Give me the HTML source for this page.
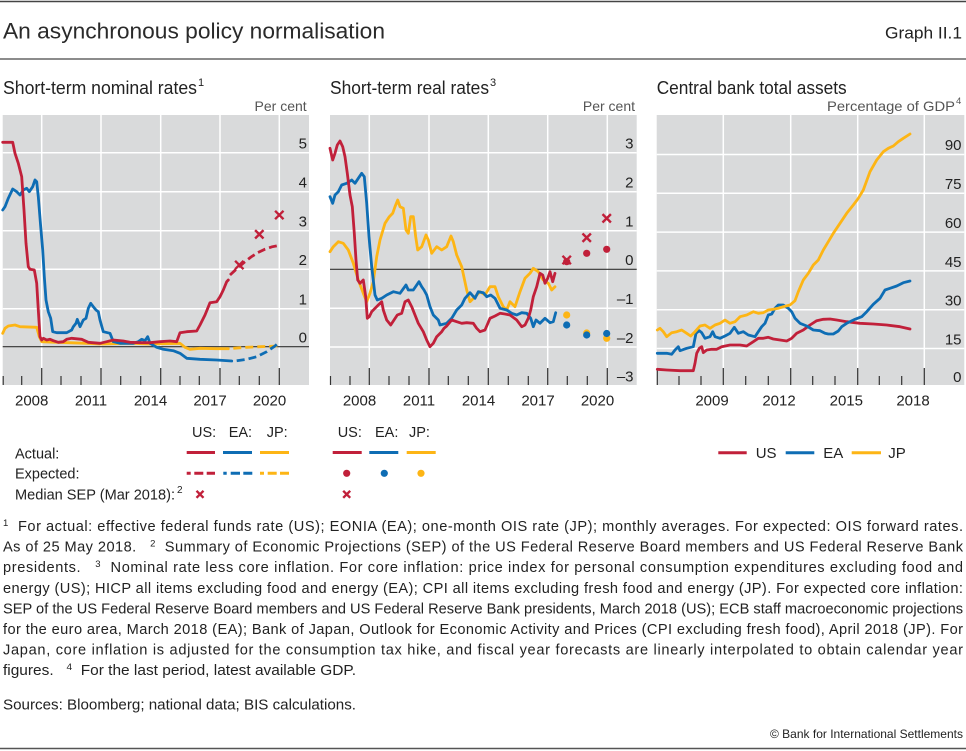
<!DOCTYPE html>
<html><head><meta charset="utf-8"><style>
body{margin:0;background:#fff}
svg{display:block}
text{font-family:"Liberation Sans",sans-serif;fill:#222}
.g{stroke:#fff;stroke-width:1.5}
.tk{stroke:#333;stroke-width:1.2}
.r{stroke:#C1203A}.b{stroke:#0E6DB4}.o{stroke:#FDB515}
.ln{fill:none;stroke-width:2.8;stroke-linejoin:round;stroke-linecap:round}
.ds{fill:none;stroke-width:2.8;stroke-dasharray:8 4}
.x{stroke:#C1203A;stroke-width:2.4}
.ax{font-size:15px;text-anchor:middle}
.yl{font-size:15px;text-anchor:end}
.lg{font-size:14.5px}
.fn{font-size:14.6px}
</style></head><body>
<svg width="966" height="751" viewBox="0 0 966 751" xmlns="http://www.w3.org/2000/svg">
<!-- rules -->
<line x1="0" y1="1.5" x2="966" y2="1.5" stroke="#444" stroke-width="1.5"/>
<line x1="0" y1="59" x2="966" y2="59" stroke="#666" stroke-width="1.5"/>
<line x1="0" y1="748.5" x2="966" y2="748.5" stroke="#555" stroke-width="1.5"/>

<text x="3" y="38.5" font-size="22" textLength="382" lengthAdjust="spacingAndGlyphs" style="fill:#2a2a2a">An asynchronous policy normalisation</text>
<text x="962" y="38.5" font-size="17" text-anchor="end" textLength="77" lengthAdjust="spacingAndGlyphs">Graph II.1</text>

<!-- panel titles -->
<text x="3" y="94" font-size="18" textLength="194" lengthAdjust="spacingAndGlyphs">Short-term nominal rates</text>
<text x="198" y="86" font-size="11">1</text>
<text x="330" y="94" font-size="18" textLength="159" lengthAdjust="spacingAndGlyphs">Short-term real rates</text>
<text x="490" y="86" font-size="11">3</text>
<text x="656.7" y="94" font-size="18" textLength="190" lengthAdjust="spacingAndGlyphs">Central bank total assets</text>

<text x="306.7" y="111" font-size="14" text-anchor="end" style="fill:#555">Per cent</text>
<text x="635" y="111" font-size="14" text-anchor="end" style="fill:#555">Per cent</text>
<text x="955" y="111" font-size="14" text-anchor="end" style="fill:#555" textLength="128" lengthAdjust="spacingAndGlyphs">Percentage of GDP</text>
<text x="956" y="104" font-size="9.5" style="fill:#555">4</text>

<!-- ============ PANEL 1 ============ -->
<rect x="2.7" y="115" width="306.3" height="270" fill="#D9DADB"/>
<g class="g">
<line x1="2.7" y1="152.7" x2="309" y2="152.7"/>
<line x1="2.7" y1="191.7" x2="309" y2="191.7"/>
<line x1="2.7" y1="230.7" x2="309" y2="230.7"/>
<line x1="2.7" y1="269.3" x2="309" y2="269.3"/>
<line x1="2.7" y1="308.7" x2="309" y2="308.7"/>
<line x1="41.7" y1="115" x2="41.7" y2="368"/>
<line x1="101" y1="115" x2="101" y2="368"/>
<line x1="160.7" y1="115" x2="160.7" y2="368"/>
<line x1="220" y1="115" x2="220" y2="368"/>
<line x1="279.3" y1="115" x2="279.3" y2="368"/>
</g>
<line x1="2.7" y1="346.7" x2="309" y2="346.7" stroke="#333" stroke-width="1.2"/>
<g class="tk">
<line x1="41.7" y1="368" x2="41.7" y2="385"/><line x1="101" y1="368" x2="101" y2="385"/><line x1="160.7" y1="368" x2="160.7" y2="385"/><line x1="220" y1="368" x2="220" y2="385"/><line x1="279.3" y1="368" x2="279.3" y2="385"/>
<line x1="3.2" y1="376" x2="3.2" y2="385"/><line x1="21.7" y1="376" x2="21.7" y2="385"/><line x1="61" y1="376" x2="61" y2="385"/><line x1="81" y1="376" x2="81" y2="385"/><line x1="120.7" y1="376" x2="120.7" y2="385"/><line x1="140.7" y1="376" x2="140.7" y2="385"/><line x1="180" y1="376" x2="180" y2="385"/><line x1="199.3" y1="376" x2="199.3" y2="385"/><line x1="239.3" y1="376" x2="239.3" y2="385"/><line x1="259.3" y1="376" x2="259.3" y2="385"/>
</g>
<text class="yl" x="307" y="148.5">5</text><text class="yl" x="307" y="187.5">4</text><text class="yl" x="307" y="226.5">3</text><text class="yl" x="307" y="265">2</text><text class="yl" x="307" y="304.5">1</text><text class="yl" x="307" y="342.5">0</text>
<text class="ax" x="31.7" y="405.5">2008</text><text class="ax" x="91" y="405.5">2011</text><text class="ax" x="150.5" y="405.5">2014</text><text class="ax" x="210" y="405.5">2017</text><text class="ax" x="269.5" y="405.5">2020</text>

<polyline class="ln o" points="2.7,333.3 5,328.3 8.3,326 15,325 20,326.7 36.7,327.3 39.3,336.7 41.7,341.7 56.7,342.3 86.7,343.3 100,344 133.3,343.3 150,344 180,343.3 185,347.3 190,349.3 200,348.3 216.7,348.7 228.3,348.7"/>
<polyline class="ds o" points="233.3,348.3 246.7,347.3 260,346.7 279.3,346"/>
<polyline class="ln b" points="2.7,210 5,206.7 8.3,198.3 12.7,189 16.7,191.7 20,195 23.3,190 26.7,188.3 29.3,191.7 32.7,186.7 35,180 36.7,181.7 38.3,196.7 40.7,226.7 42.7,250 44.3,276.7 46,300 48.3,311.7 50.7,318.3 52.7,331.7 56.7,332.7 66.7,332.7 71.7,330 73.3,326.7 76,323.3 77.3,319.3 80,326.7 83.3,320 86,318.3 88.3,308.3 90.7,303.3 93.3,306.7 96,310 98.3,311.7 100,320 103.3,331.7 110,333.3 113.3,341.7 120,343.3 133.3,343.3 138.3,341.7 141.7,339.3 145,340.7 147.7,336.7 150,343.3 156.7,347.3 163.3,349.3 173.3,350.7 180,353.3 186.7,358.3 200,359.3 216.7,360 231.7,361"/>
<polyline class="ds b" points="236.7,360.7 246.7,359.3 256.7,356.7 266.7,351.7 275,346 279.3,342.3"/>
<polyline class="ln r" points="2.7,142.3 12.7,142.3 15,153.3 18.3,163.3 21.7,176.7 24,210 26,243.3 28.3,266.7 30,269.3 34.3,270 36.7,283.3 38.3,310 40,336.7 41.7,340 43.3,338.3 46.7,340 50,339.3 53.3,340.7 58.3,342.3 63.3,341.7 66.7,339.3 71.7,338.3 81.7,339.3 88.3,342.3 100,343.3 106.7,341.7 113.3,340 123.3,341 130,342.3 140,342.7 150,342.7 160,341.7 170,341 176.7,341.7 180,332.7 186.7,331.7 196.7,331 200,325 205,315 210,302.7 216.7,301.7 220,296.7 223.3,290 226.7,281.7 228.3,280"/>
<polyline class="ds r" points="230,275 237,268.5 244,262.5 251,257 258,252.5 265,249.2 272,246.8 279.3,245.3"/>
<g class="x">
<path d="M235.1,260.8 L243.5,269.2 M243.5,260.8 L235.1,269.2"/>
<path d="M255.1,230.1 L263.5,238.5 M263.5,230.1 L255.1,238.5"/>
<path d="M275.1,210.8 L283.5,219.2 M283.5,210.8 L275.1,219.2"/>
</g>

<!-- ============ PANEL 2 ============ -->
<rect x="330" y="115" width="306.7" height="270" fill="#D9DADB"/>
<g class="g">
<line x1="330" y1="152.7" x2="636.7" y2="152.7"/>
<line x1="330" y1="191.7" x2="636.7" y2="191.7"/>
<line x1="330" y1="230.7" x2="636.7" y2="230.7"/>
<line x1="330" y1="308.3" x2="636.7" y2="308.3"/>
<line x1="330" y1="347" x2="636.7" y2="347"/>
<line x1="369.3" y1="115" x2="369.3" y2="368"/>
<line x1="429" y1="115" x2="429" y2="368"/>
<line x1="488.3" y1="115" x2="488.3" y2="368"/>
<line x1="547.7" y1="115" x2="547.7" y2="368"/>
<line x1="607.3" y1="115" x2="607.3" y2="368"/>
</g>
<line x1="330" y1="269.3" x2="636.7" y2="269.3" stroke="#333" stroke-width="1.2"/>
<g class="tk">
<line x1="369.3" y1="368" x2="369.3" y2="385"/><line x1="429" y1="368" x2="429" y2="385"/><line x1="488.3" y1="368" x2="488.3" y2="385"/><line x1="547.7" y1="368" x2="547.7" y2="385"/><line x1="607.3" y1="368" x2="607.3" y2="385"/>
<line x1="330.5" y1="376" x2="330.5" y2="385"/><line x1="350" y1="376" x2="350" y2="385"/><line x1="389" y1="376" x2="389" y2="385"/><line x1="409" y1="376" x2="409" y2="385"/><line x1="448.3" y1="376" x2="448.3" y2="385"/><line x1="468.3" y1="376" x2="468.3" y2="385"/><line x1="508.3" y1="376" x2="508.3" y2="385"/><line x1="528.3" y1="376" x2="528.3" y2="385"/><line x1="567.3" y1="376" x2="567.3" y2="385"/><line x1="587.3" y1="376" x2="587.3" y2="385"/>
</g>
<text class="yl" x="633.5" y="148.5">3</text><text class="yl" x="633.5" y="187.5">2</text><text class="yl" x="633.5" y="226.5">1</text><text class="yl" x="633.5" y="265">0</text><text class="yl" x="633.5" y="304">–1</text><text class="yl" x="633.5" y="343">–2</text><text class="yl" x="633.5" y="381.5">–3</text>
<text class="ax" x="359.5" y="405.5">2008</text><text class="ax" x="419" y="405.5">2011</text><text class="ax" x="478.5" y="405.5">2014</text><text class="ax" x="538" y="405.5">2017</text><text class="ax" x="597.5" y="405.5">2020</text>

<polyline class="ln o" points="330,251.7 333.3,246.7 338.3,241.7 343.3,243.3 348.3,250 353.3,263.3 358.3,280 363.3,293.3 366.7,301.7 370,293.3 373.3,281.7 376.7,256.7 380,240 385,223.3 389.3,216.7 392.7,213.3 395,206.7 397.7,200 400,206.7 403.3,208.3 406,230 408.3,233.3 410.7,216.7 413.3,216.7 415.7,236.7 417.7,250 421.7,246.7 426,235 428.3,240 431.7,253.3 436.7,246.7 441.7,250 446.7,246.7 451,236 453.3,241.7 456.7,255 461.7,266.7 466.7,290 470,301.7 475,296.7 480,291.7 485,295 490,286.7 495,286.7 498.3,296.7 503.3,306.7 506.7,310 510,301.7 515,306.7 520,291.7 525,278.3 530,273.3 533.3,268.3 538.3,271.7 543.3,280 548.3,283.3 551.7,290 555,286.7"/>
<polyline class="ln b" points="330,196.7 332.7,203.3 335,195 338.3,191.7 341.7,185 346.7,183.3 351.7,180 355,183.3 358.3,178.3 361.7,173.3 364.3,176.7 366.7,203.3 369,236.7 371.7,266.7 375,295 377.3,300 381.7,298.3 386.7,295 393.3,291.7 400,293.3 406,285 408.3,290 413.3,290 419,281.7 421.7,286.7 424,290 426.7,295 430,306.7 433.3,315 438.3,320 440,325 446.7,323.3 451.7,318.3 456.7,310 461.7,305 465,298.3 470,292.7 475,298.3 478.3,291.7 483.3,292.7 486.7,296.7 490.7,295 495,298.3 500,308.3 506.7,310 511.7,313.3 516.7,315 521.7,312.7 526.7,313.3 530.7,318.3 533.3,326.7 536,320 540,323.3 545,318.3 550,322.7 553.3,321.7 555.7,312.7"/>
<polyline class="ln r" points="330,148.3 332.7,160 335,153.3 337.3,145 340,141 342.7,146.7 345,156.7 347.3,173.3 350,195 352.3,206.7 354.3,233.3 356,260 357.7,280 360,283.3 363.3,280 365.7,296.7 367.3,318.3 369.3,316.7 371.7,311.7 375,308.3 378.3,305 381.7,301.7 383.3,310 386.7,320 390.7,325 394,320 397.3,315 401.7,313.3 405,301.7 408.3,300 411.7,306.7 415,315 418.3,323.3 423.3,331.7 426.7,340 430,346.7 433.3,343.3 436.7,336.7 441.7,331.7 444,328.3 446.7,326 451.7,320 456.7,321.7 461.7,323.3 466.7,322.7 473.3,323.3 476.7,328.3 480,331.7 485,330 490,318.3 495,316 500,313.3 505,314 510,315 516.7,320 521.7,326.7 525,325 528.3,318.3 530.7,310 533.3,296.7 536.7,286.7 540,273.3 542.7,275 545,283.3 547.7,278.3 550,271.7 552.7,281.7 555,273.3"/>
<circle cx="566.7" cy="315" r="3.6" fill="#FDB515"/><circle cx="586.7" cy="333" r="3.6" fill="#FDB515"/><circle cx="606.7" cy="338.3" r="3.6" fill="#FDB515"/>
<circle cx="566.7" cy="325" r="3.6" fill="#0E6DB4"/><circle cx="586.7" cy="335" r="3.6" fill="#0E6DB4"/><circle cx="606.7" cy="333.5" r="3.6" fill="#0E6DB4"/>
<circle cx="566.7" cy="261.7" r="3.6" fill="#C1203A"/><circle cx="586.7" cy="253.3" r="3.6" fill="#C1203A"/><circle cx="606.7" cy="249.3" r="3.6" fill="#C1203A"/>
<g class="x">
<path d="M562.5,255.8 L570.9,264.2 M570.9,255.8 L562.5,264.2"/>
<path d="M582.5,233.5 L590.9,241.9 M590.9,233.5 L582.5,241.9"/>
<path d="M602.5,214.1 L610.9,222.5 M610.9,214.1 L602.5,222.5"/>
</g>

<!-- ============ PANEL 3 ============ -->
<rect x="656.7" y="115" width="307.6" height="270" fill="#D9DADB"/>
<g class="g">
<line x1="656.7" y1="154.5" x2="964.3" y2="154.5"/>
<line x1="656.7" y1="193.3" x2="964.3" y2="193.3"/>
<line x1="656.7" y1="232.1" x2="964.3" y2="232.1"/>
<line x1="656.7" y1="270.9" x2="964.3" y2="270.9"/>
<line x1="656.7" y1="309.7" x2="964.3" y2="309.7"/>
<line x1="656.7" y1="348.5" x2="964.3" y2="348.5"/>
<line x1="723.3" y1="115" x2="723.3" y2="368"/>
<line x1="790.7" y1="115" x2="790.7" y2="368"/>
<line x1="857.7" y1="115" x2="857.7" y2="368"/>
<line x1="924.3" y1="115" x2="924.3" y2="368"/>
</g>
<g class="tk">
<line x1="657.3" y1="368" x2="657.3" y2="385"/><line x1="723.3" y1="368" x2="723.3" y2="385"/><line x1="790.7" y1="368" x2="790.7" y2="385"/><line x1="857.7" y1="368" x2="857.7" y2="385"/><line x1="924.3" y1="368" x2="924.3" y2="385"/>
<line x1="679" y1="376" x2="679" y2="385"/><line x1="701" y1="376" x2="701" y2="385"/><line x1="745.7" y1="376" x2="745.7" y2="385"/><line x1="768.3" y1="376" x2="768.3" y2="385"/><line x1="812.7" y1="376" x2="812.7" y2="385"/><line x1="835" y1="376" x2="835" y2="385"/><line x1="879.3" y1="376" x2="879.3" y2="385"/><line x1="901.7" y1="376" x2="901.7" y2="385"/>
</g>
<text class="yl" x="961.5" y="150">90</text><text class="yl" x="961.5" y="189">75</text><text class="yl" x="961.5" y="228">60</text><text class="yl" x="961.5" y="267">45</text><text class="yl" x="961.5" y="305.5">30</text><text class="yl" x="961.5" y="344.5">15</text><text class="yl" x="961.5" y="382">0</text>
<text class="ax" x="712" y="405.5">2009</text><text class="ax" x="779" y="405.5">2012</text><text class="ax" x="846.3" y="405.5">2015</text><text class="ax" x="913" y="405.5">2018</text>

<polyline class="ln r" points="657.3,369.3 666.7,370 680,370.7 693.3,370.7 695,363.3 696.7,353.3 699.3,348.3 701.7,346.7 703.3,352.7 706.7,350 711.7,349.3 716.7,349.3 721.7,346.7 730,345 740,345 746.7,346 753.3,341.7 758.3,338.3 763.3,338.3 768.3,337.3 773.3,339 780,340 786.7,341 791.7,338.3 796.7,333.3 803.3,330 810,325 816.7,320.7 823.3,319.3 830,319 836.7,320 846.7,321.7 860,323.3 873.3,324 886.7,325 900,326.7 910,329"/>
<polyline class="ln b" points="657.3,353.3 666.7,353.3 671.7,354.3 675,350 678.3,346.7 680,350.7 686.7,348.3 693.3,346.7 696,333.3 699.3,330.7 701.7,332.7 705,338.3 710,336.7 712.7,331.7 715,336.7 720,338.3 725,336 730,333.3 734.3,327.3 738.3,333.3 743.3,331.7 748.3,335 755,336.7 758.3,331.7 761.7,326.7 765,323.3 768.3,315 771.7,314 775,308.3 778.3,305 783.3,305 788.3,308.3 791.7,311.7 795,318.3 800,323.3 806.7,326 813.3,330 820,330.7 825,333.3 828.3,334 833.3,334 838.3,331 841.7,326.7 846.7,323.3 855,319.3 861.7,316.7 866.7,311.7 873.3,304.3 880,298.3 885,290 890,288.3 896.7,286 903.3,282.7 910,281"/>
<polyline class="ln o" points="657.3,330 660,328.3 663.3,331.7 666.7,336.7 671.7,332.7 676.7,331.7 681.7,330 686.7,333.3 690.7,336 695,331.7 700,326 705,325 710,328.3 715,325 720,323.3 725,320 730,323.3 735,321.7 740,316.7 746.7,315 753.3,311.7 758.3,313.3 763.3,312.7 768.3,310 773.3,309.3 778.3,308.3 783.3,306.7 790,305 795,300.7 798.3,291.7 803.3,280 808.3,273.3 813.3,265 818.3,260 823.3,250 828.3,241.7 833.3,233.3 840,223.3 846.7,213.3 853.3,205 858.3,198.3 863.3,190 870,171.7 876.7,160 883.3,151.7 888.3,148.3 893.3,146 898.3,141.7 903.3,138.3 910,134"/>

<!-- ============ LEGENDS ============ -->
<text class="lg" x="192" y="437">US:</text><text class="lg" x="228.7" y="437">EA:</text><text class="lg" x="266.7" y="437">JP:</text>
<text class="lg" x="337.7" y="437">US:</text><text class="lg" x="375" y="437">EA:</text><text class="lg" x="409" y="437">JP:</text>
<text class="lg" x="15" y="458.5">Actual:</text>
<text class="lg" x="15" y="478.5">Expected:</text>
<text class="lg" x="15" y="499.5" textLength="160" lengthAdjust="spacingAndGlyphs">Median SEP (Mar 2018):</text>
<text x="177" y="493" font-size="10">2</text>
<g stroke-width="3">
<line x1="186.7" y1="452.5" x2="215" y2="452.5" class="r"/><line x1="223" y1="452.5" x2="252" y2="452.5" class="b"/><line x1="260" y1="452.5" x2="289" y2="452.5" class="o"/>
<line x1="332.7" y1="452.5" x2="361.7" y2="452.5" class="r"/><line x1="369.3" y1="452.5" x2="398.3" y2="452.5" class="b"/><line x1="406.7" y1="452.5" x2="435.7" y2="452.5" class="o"/>
<path d="M186.7,473.3H190.7M194.3,473.3H203.3M206.7,473.3H215" class="r"/>
<path d="M223.3,473.3H226.7M230.7,473.3H240M243.3,473.3H252.3" class="b"/>
<path d="M260,473.3H264M267.7,473.3H276.7M280,473.3H289" class="o"/>
</g>
<circle cx="346.7" cy="473.3" r="3.6" fill="#C1203A"/><circle cx="384.3" cy="473.3" r="3.6" fill="#0E6DB4"/><circle cx="421" cy="473.3" r="3.6" fill="#FDB515"/>
<g class="x">
<path d="M196.5,490.8 L203.5,497.8 M203.5,490.8 L196.5,497.8"/>
<path d="M343.2,490.8 L350.2,497.8 M350.2,490.8 L343.2,497.8"/>
</g>
<g stroke-width="3">
<line x1="718.3" y1="452.7" x2="746.7" y2="452.7" class="r"/>
<line x1="785.7" y1="452.7" x2="814.3" y2="452.7" class="b"/>
<line x1="851.7" y1="452.7" x2="881" y2="452.7" class="o"/>
</g>
<text x="755.7" y="458" font-size="15">US</text>
<text x="823.3" y="458" font-size="15">EA</text>
<text x="888.3" y="458" font-size="15">JP</text>

<!-- ============ FOOTNOTES ============ -->
<text class="fn" x="3" y="531" textLength="960" lengthAdjust="spacing"><tspan font-size="9.5" dy="-5">1</tspan><tspan dy="5">&#160; For actual: effective federal funds rate (US); EONIA (EA); one-month OIS rate (JP); monthly averages. For expected: OIS forward rates.</tspan></text>
<text class="fn" x="3" y="551.6" textLength="960" lengthAdjust="spacing">As of 25 May 2018.&#160;&#160;&#160;<tspan font-size="9.5" dy="-5">2</tspan><tspan dy="5">&#160; Summary of Economic Projections (SEP) of the US Federal Reserve Board members and US Federal Reserve Bank</tspan></text>
<text class="fn" x="3" y="572.2" textLength="960" lengthAdjust="spacing">presidents.&#160;&#160;&#160;<tspan font-size="9.5" dy="-5">3</tspan><tspan dy="5">&#160; Nominal rate less core inflation. For core inflation: price index for personal consumption expenditures excluding food and</tspan></text>
<text class="fn" x="3" y="592.8" textLength="960" lengthAdjust="spacing">energy (US); HICP all items excluding food and energy (EA); CPI all items excluding fresh food and energy (JP). For expected core inflation:</text>
<text class="fn" x="3" y="613.4" textLength="960" lengthAdjust="spacing">SEP of the US Federal Reserve Board members and US Federal Reserve Bank presidents, March 2018 (US); ECB staff macroeconomic projections</text>
<text class="fn" x="3" y="634" textLength="960" lengthAdjust="spacing">for the euro area, March 2018 (EA); Bank of Japan, Outlook for Economic Activity and Prices (CPI excluding fresh food), April 2018 (JP). For</text>
<text class="fn" x="3" y="654.6" textLength="960" lengthAdjust="spacing">Japan, core inflation is adjusted for the consumption tax hike, and fiscal year forecasts are linearly interpolated to obtain calendar year</text>
<text class="fn" x="3" y="675.2" textLength="353" lengthAdjust="spacingAndGlyphs">figures.&#160;&#160;&#160;<tspan font-size="9.5" dy="-5">4</tspan><tspan dy="5">&#160; For the last period, latest available GDP.</tspan></text>
<text class="fn" x="3" y="709.5" textLength="353" lengthAdjust="spacingAndGlyphs">Sources: Bloomberg; national data; BIS calculations.</text>
<text x="963" y="738" font-size="12" text-anchor="end" textLength="193" lengthAdjust="spacingAndGlyphs">© Bank for International Settlements</text>
</svg>
</body></html>
